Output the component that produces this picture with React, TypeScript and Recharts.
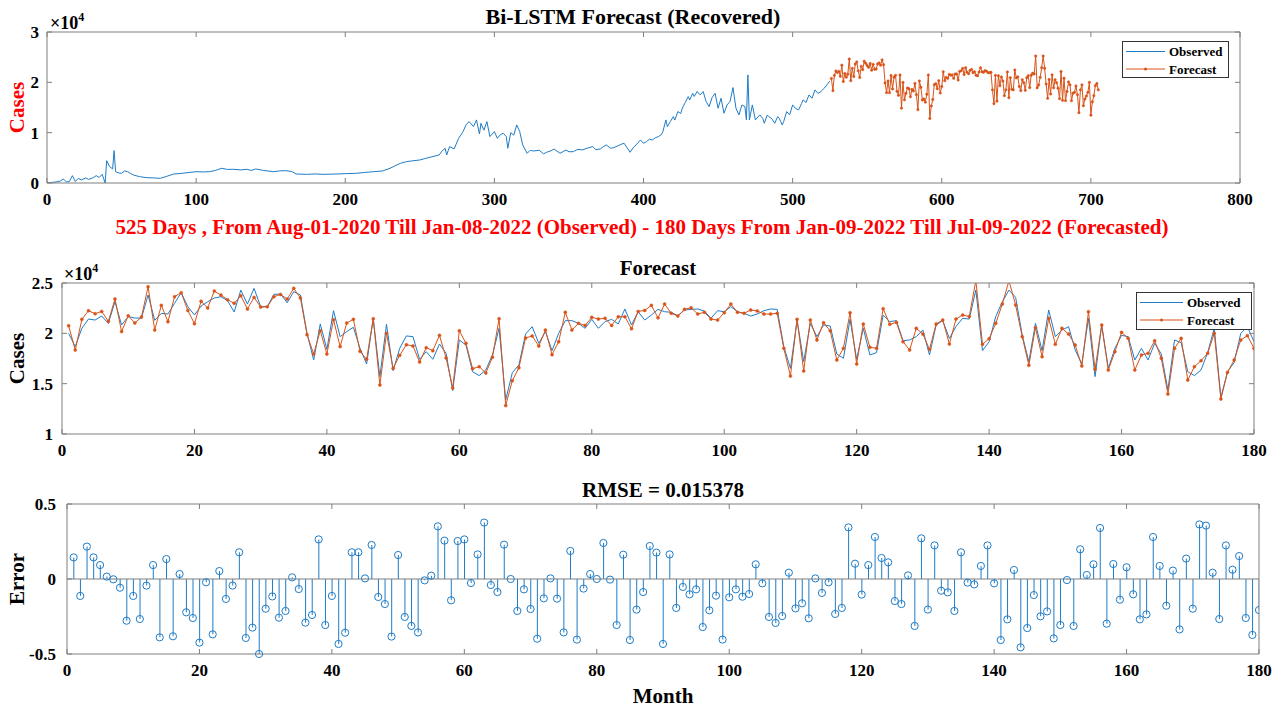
import { LineChart, Line, XAxis, YAxis, ComposedChart, Bar, ReferenceLine } from "recharts"

const FONT = '"Liberation Serif", "Times New Roman", Times, serif'
const BLUE = "#1f7cc6"
const ORANGE = "#D95319"
const FRAME = "#7f7f7f"
const RED = "#FF0000"

// observed daily cases (top panel), read at irregular day positions
const observedDays = [
    0, 3, 6, 9, 11, 13, 15, 17, 19, 21, 23, 26, 28, 31, 33, 35, 37, 39, 40, 42, 44, 45, 46, 48, 50, 52, 54, 56, 58, 62,
    67, 72, 76, 80, 85, 90, 94, 100, 105, 109, 113, 117, 121, 125, 130, 134, 137, 140, 145, 152, 156, 160, 164, 167, 174,
    180, 185, 190, 195, 200, 207, 213, 219, 225, 230, 234, 237, 241, 245, 250, 254, 258, 263, 265, 267, 268, 270, 273,
    276, 279, 281, 283, 286, 288, 290, 291, 293, 295, 297, 300, 302, 304, 306, 308, 309, 311, 313, 315, 317, 319, 322,
    324, 326, 330, 333, 335, 338, 340, 344, 348, 350, 353, 356, 359, 363, 366, 368, 371, 373, 375, 378, 380, 383, 385,
    387, 389, 391, 393, 395, 397, 398, 400, 402, 404, 406, 408, 410, 412, 413, 415, 416, 418, 420, 421, 423, 425, 426,
    428, 430, 431, 433, 434, 436, 438, 440, 442, 444, 446, 448, 450, 452, 454, 456, 458, 460, 462, 464, 466, 468, 469,
    470, 471, 473, 475, 478, 480, 481, 483, 484, 486, 488, 490, 491, 493, 494, 496, 498, 500, 502, 504, 506, 507, 509,
    511, 513, 515, 517, 519, 521, 523, 525,
]
const observedCases = [
    0, 100, 200, 400, 800, 200, 300, 1460, 300, 930, 600, 1000, 700, 1060, 1460, 1100, 1720, 0, 4440, 3250, 2800, 6430,
    2250, 2000, 1920, 2400, 2250, 1900, 1590, 1260, 1060, 1000, 930, 1300, 1790, 1900, 2050, 2250, 2200, 2250, 2500,
    2920, 2700, 2720, 2600, 2720, 2500, 2790, 2500, 2250, 2400, 2450, 2300, 1790, 1720, 1800, 1720, 1750, 1800, 1860,
    1920, 2100, 2250, 2390, 2920, 3500, 3910, 4240, 4400, 4570, 4900, 5200, 5570, 6400, 6890, 5570, 7230, 6760, 8880,
    10210, 11540, 12200, 11200, 12530, 9750, 11870, 10500, 12200, 9220, 10210, 8880, 9600, 9880, 9220, 6900, 10010, 9500,
    11540, 10210, 7560, 5900, 6500, 6360, 6500, 5800, 6100, 6400, 6760, 5900, 6560, 6200, 6230, 6700, 6560, 7000, 7230,
    6600, 6760, 7200, 7560, 6900, 7030, 7400, 7690, 7890, 7000, 6100, 7000, 7560, 8200, 8550, 7900, 8220, 8700, 8550,
    9000, 9220, 9600, 10210, 12530, 11200, 12200, 13190, 12500, 14190, 13800, 14850, 16000, 17170, 16500, 17830, 17200,
    18170, 17500, 18170, 16180, 15180, 16970, 17830, 14850, 16840, 13860, 15500, 16180, 18960, 14850, 13530, 15500,
    15180, 12530, 21480, 12530, 15510, 12530, 13530, 12800, 11870, 13500, 13190, 12800, 11870, 13200, 12860, 11540,
    12200, 14190, 13530, 15510, 14800, 14520, 15800, 16510, 16000, 17500, 16840, 18500, 17800, 18170, 18800, 19490,
    20290,
]

// 180 forecasted days (month axis in the lower panels)
const forecastCases = [
    20760, 18350, 21390, 22250, 21950, 22180, 21190, 23410, 20170, 21750, 21030, 21620, 24630, 20330, 22780, 21160,
    23640, 24040, 22280, 20960, 23180, 22520, 24200, 23800, 23340, 22980, 23740, 22420, 23570, 22610, 22650, 23640,
    23870, 23410, 24470, 23510, 19870, 17950, 20260, 17950, 21360, 18680, 21030, 21390, 18210, 17420, 21460, 14870,
    20000, 16520, 17820, 18870, 18740, 17150, 18580, 18280, 19800, 17550, 14570, 20260, 19010, 16490, 16690, 16060,
    17620, 21460, 12820, 15300, 16590, 19540, 19740, 18740, 20330, 17880, 19170, 22090, 20330, 20990, 20790, 21590,
    21420, 21490, 20790, 21650, 21650, 20460, 22180, 22280, 22780, 21540, 22910, 21990, 21720, 22380, 22550, 21920,
    22090, 21420, 21320, 22050, 22910, 22090, 21990, 22320, 22220, 21920, 21920, 21990, 18510, 15760, 21390, 16260,
    21320, 19340, 21060, 20260, 17350, 18510, 22050, 16950, 20930, 18610, 18510, 22450, 20890, 21090, 19170, 18350,
    20500, 19930, 18410, 20930, 21320, 18940, 21420, 21820, 21660, 25230, 18910, 19470, 20990, 22910, 25230, 22810,
    19670, 16820, 20560, 17680, 21490, 18910, 20500, 19930, 18840, 16760, 22150, 16420, 20830, 16360, 18180, 20100,
    19500, 16360, 17850, 18010, 19270, 17520, 13970, 18510, 19500, 15360, 16690, 17280, 18010, 20000, 13480, 16130,
    17350, 19340, 19770, 18510,
]
const observedMonth = [
    20000, 18680, 20500, 21420, 21320, 21720, 20990, 23140, 20830, 21660, 21520, 21520, 23810, 21290, 21980, 21920,
    22980, 24040, 22650, 21820, 22710, 23140, 23510, 23640, 23240, 22120, 24300, 22910, 24470, 22650, 22650, 23870,
    23910, 23040, 24140, 23810, 20000, 17350, 20930, 18410, 22250, 19670, 20170, 20600, 18510, 16950, 21460, 15700,
    20890, 16290, 18510, 19740, 19670, 17420, 18180, 17420, 18940, 18010, 14310, 19340, 18840, 16190, 15800, 16360,
    17850, 20500, 13380, 16090, 16860, 19930, 20660, 19010, 20170, 18280, 20000, 21260, 21260, 20990, 20500, 21390,
    20500, 21160, 21390, 20930, 22420, 20830, 22150, 21320, 21820, 22380, 22150, 22090, 21750, 22320, 22380, 22420,
    22220, 21490, 22250, 22150, 22650, 22150, 21990, 21720, 21920, 22250, 22420, 22380, 18680, 16520, 21320, 17190,
    20990, 19670, 20830, 20730, 17950, 17520, 21390, 17420, 20500, 17850, 18080, 21820, 21160, 21260, 19270, 19340,
    19670, 20330, 17850, 20830, 21260, 19500, 20680, 21490, 21420, 24300, 18280, 19170, 21660, 23140, 24300, 23580,
    19830, 17190, 20990, 18280, 22320, 19670, 20330, 20660, 18340, 16950, 21490, 15700, 20830, 16520, 18510, 19800,
    19670, 17350, 18510, 17350, 19010, 17950, 14370, 19340, 19070, 16190, 15800, 16360, 18080, 20500, 13640, 16190,
    17090, 20000, 20660, 19170,
]
const errors = [
    0.144, -0.113, 0.216, 0.144, 0.093, 0.016, -0.002, -0.058, -0.278, -0.113, -0.267, -0.044, 0.093, -0.389, 0.133,
    -0.382, 0.033, -0.222, -0.26, -0.424, -0.022, -0.369, 0.053, -0.133, -0.044, 0.178, -0.393, -0.324, -0.5, -0.198,
    -0.116, -0.258, -0.213, 0.011, -0.067, -0.291, -0.24, 0.264, -0.307, -0.113, -0.433, -0.358, 0.178, 0.178, 0.004,
    0.227, -0.12, -0.167, -0.384, 0.16, -0.253, -0.313, -0.356, -0.009, 0.022, 0.351, 0.256, -0.142, 0.253, 0.264,
    -0.027, 0.164, 0.376, -0.04, -0.087, 0.229, 0.0, -0.213, -0.069, -0.2, -0.398, -0.129, 0.004, -0.131, -0.356, 0.187,
    -0.404, -0.064, 0.033, 0.0, 0.24, -0.004, -0.307, 0.162, -0.407, -0.204, -0.087, 0.22, 0.176, -0.433, 0.164,
    -0.193, -0.053, -0.102, -0.069, -0.32, -0.209, -0.111, -0.404, -0.122, -0.069, -0.118, -0.1, 0.098, -0.029, -0.253,
    -0.293, -0.247, 0.042, -0.196, -0.162, -0.262, 0.004, -0.093, -0.022, -0.233, -0.193, 0.344, 0.102, -0.104, 0.093,
    0.28, 0.14, 0.111, -0.147, -0.167, 0.024, -0.313, 0.271, -0.204, 0.224, -0.078, -0.089, -0.213, 0.178, -0.024,
    -0.036, 0.087, 0.224, -0.029, -0.407, -0.269, 0.06, -0.456, -0.327, -0.107, -0.249, -0.216, -0.396, -0.307, -0.007,
    -0.313, 0.198, 0.027, 0.098, 0.34, -0.298, 0.1, -0.138, 0.078, -0.102, -0.269, -0.236, 0.28, 0.087, -0.178, 0.056,
    -0.336, 0.136, -0.198, 0.364, 0.356, 0.042, -0.267, 0.224, 0.062, 0.153, -0.26, -0.373, -0.207,
]

const dayTicks = [0, 100, 200, 300, 400, 500, 600, 700, 800]
const caseTicks = [0, 10000, 20000, 30000]
const forecastTicks = [10000, 15000, 20000, 25000]
const monthTicks = [0, 20, 40, 60, 80, 100, 120, 140, 160, 180]
const errorTicks = [-0.5, 0, 0.5]

const lastObservedDay = observedDays[observedDays.length - 1]
const observedData = observedDays.map((d, i) => ({ day: d, cases: observedCases[i] }))
const forecastData = forecastCases.map((v, i) => ({ day: lastObservedDay + i + 1, cases: v }))
const monthData = forecastCases.map((v, i) => ({ month: i + 1, observed: observedMonth[i], forecast: v }))
const errorData = errors.map((e, i) => ({ month: i + 1, err: e }))

const TICK_FS = 17
const LABEL_FS = 21
const TITLE_FS = 21
const tickStyle = { fill: "#000", fontFamily: FONT, fontSize: TICK_FS, fontWeight: "bold" as const }
const blank = () => ""

const yLabel = (value: string, color: string) => ({
    value,
    angle: -90,
    position: "insideLeft" as const,
    offset: 17,
    style: { textAnchor: "middle", fill: color, fontFamily: FONT, fontSize: LABEL_FS, fontWeight: "bold" },
})

function Caption({ cx, cy, size, color = "#000", children }: any) {
    return (
        <div
            style={{
                position: "absolute",
                left: cx - 700,
                width: 1400,
                top: cy - size / 2,
                lineHeight: `${size}px`,
                fontSize: size,
                fontFamily: FONT,
                fontWeight: "bold",
                color,
                textAlign: "center",
                whiteSpace: "nowrap",
            }}
        >
            {children}
        </div>
    )
}

function Exponent({ left, top }: { left: number; top: number }) {
    return (
        <div
            style={{
                position: "absolute",
                left,
                top,
                fontFamily: FONT,
                fontSize: 18,
                fontWeight: "bold",
                lineHeight: "18px",
                whiteSpace: "nowrap",
            }}
        >
            ×10
            <span style={{ fontSize: 12, position: "relative", top: -8 }}>4</span>
        </div>
    )
}

function LegendBox({ left, top, width, height, lineEnd }: any) {
    const rows = [
        { name: "Observed", color: BLUE, marker: false },
        { name: "Forecast", color: ORANGE, marker: true },
    ]
    return (
        <svg style={{ position: "absolute", left, top }} width={width} height={height}>
            <rect x={0.5} y={0.5} width={width - 1} height={height - 1} fill="#fff" stroke="#333" strokeWidth={1} />
            {rows.map((r, i) => {
                const y = 10.5 + i * 17.5
                return (
                    <g key={r.name}>
                        <line x1={4} x2={lineEnd} y1={y} y2={y} stroke={r.color} strokeWidth={1} />
                        {r.marker && <circle cx={(4 + lineEnd) / 2} cy={y} r={1.5} fill={r.color} />}
                        <text
                            x={lineEnd + 4}
                            y={y}
                            dy="0.35em"
                            fontFamily={FONT}
                            fontSize={13}
                            fontWeight="bold"
                            fill="#000"
                        >
                            {r.name}
                        </text>
                    </g>
                )
            })}
        </svg>
    )
}

export default function App() {
    return (
        <div style={{ position: "absolute", left: 0, top: 0, width: 1285, height: 708, background: "#fff", overflow: "hidden" }}>
            {/* top panel: whole history + forecast */}
            <div style={{ position: "absolute", left: 0, top: 0 }}>
                <LineChart width={1285} height={240} margin={{ top: 31, right: 40, bottom: 27, left: 0 }}>
                    <XAxis xAxisId="b" type="number" dataKey="day" domain={[0, 800]} ticks={dayTicks} interval={0}
                        height={30} tickSize={-5} tickMargin={15} stroke={FRAME} tick={tickStyle} allowDataOverflow />
                    <XAxis xAxisId="t" orientation="top" type="number" dataKey="day" domain={[0, 800]} ticks={dayTicks}
                        interval={0} height={1} tickSize={-5} tickFormatter={blank} stroke={FRAME} allowDataOverflow />
                    <YAxis yAxisId="l" type="number" domain={[0, 30000]} ticks={caseTicks} interval={0} width={47}
                        tickSize={-5} tickMargin={13} stroke={FRAME} tick={tickStyle}
                        tickFormatter={(v: number) => String(v / 10000)} label={yLabel("Cases", RED)} allowDataOverflow />
                    <YAxis yAxisId="r" orientation="right" type="number" domain={[0, 30000]} ticks={caseTicks} interval={0}
                        width={5} tickSize={-5} tickFormatter={blank} stroke={FRAME} allowDataOverflow />
                    <Line xAxisId="b" yAxisId="l" data={observedData} dataKey="cases" stroke={BLUE} strokeWidth={1}
                        dot={false} isAnimationActive={false} />
                    <Line xAxisId="b" yAxisId="l" data={forecastData} dataKey="cases" stroke={ORANGE} strokeWidth={1}
                        dot={{ r: 1.2, fill: ORANGE, stroke: ORANGE, strokeWidth: 0.5 }} isAnimationActive={false} />
                </LineChart>
            </div>
            <Caption cx={633} cy={17} size={22}>Bi-LSTM Forecast (Recovered)</Caption>
            <Exponent left={50} top={14} />
            <LegendBox left={1122} top={41} width={107} height={37} lineEnd={43} />
            <Caption cx={642} cy={227} size={TITLE_FS} color={RED}>
                525 Days , From Aug-01-2020 Till Jan-08-2022 (Observed) - 180 Days From Jan-09-2022 Till Jul-09-2022 (Forecasted)
            </Caption>

            {/* middle panel: forecast vs observed */}
            <div style={{ position: "absolute", left: 0, top: 250 }}>
                <LineChart width={1285} height={215} data={monthData} margin={{ top: 32, right: 26, bottom: 1, left: 0 }}>
                    <XAxis xAxisId="b" type="number" dataKey="month" domain={[0, 180]} ticks={monthTicks} interval={0}
                        height={30} tickSize={-5} tickMargin={15} stroke={FRAME} tick={tickStyle} allowDataOverflow />
                    <XAxis xAxisId="t" orientation="top" type="number" dataKey="month" domain={[0, 180]} ticks={monthTicks}
                        interval={0} height={1} tickSize={-5} tickFormatter={blank} stroke={FRAME} allowDataOverflow />
                    <YAxis yAxisId="l" type="number" domain={[10000, 25000]} ticks={forecastTicks} interval={0} width={62}
                        tickSize={-5} tickMargin={14} stroke={FRAME} tick={tickStyle}
                        tickFormatter={(v: number) => String(v / 10000)} label={yLabel("Cases", "#000")} allowDataOverflow />
                    <YAxis yAxisId="r" orientation="right" type="number" domain={[10000, 25000]} ticks={forecastTicks}
                        interval={0} width={5} tickSize={-5} tickFormatter={blank} stroke={FRAME} allowDataOverflow />
                    <Line xAxisId="b" yAxisId="l" dataKey="observed" stroke={BLUE} strokeWidth={1} dot={false}
                        isAnimationActive={false} />
                    <Line xAxisId="b" yAxisId="l" dataKey="forecast" stroke={ORANGE} strokeWidth={1}
                        dot={{ r: 1.5, fill: ORANGE, stroke: ORANGE, strokeWidth: 0.5 }} isAnimationActive={false} />
                </LineChart>
            </div>
            <Caption cx={658} cy={268} size={TITLE_FS}>Forecast</Caption>
            <Exponent left={64} top={265} />
            <LegendBox left={1136} top={292} width={116} height={38} lineEnd={47} />

            {/* bottom panel: error stems */}
            <div style={{ position: "absolute", left: 0, top: 470 }}>
                <ComposedChart width={1285} height={215} data={errorData} margin={{ top: 33, right: 21, bottom: 1, left: 0 }}>
                    <XAxis xAxisId="b" type="number" dataKey="month" domain={[0, 180]} ticks={monthTicks} interval={0}
                        height={30} tickSize={-5} tickMargin={15} stroke={FRAME} tick={tickStyle} allowDataOverflow />
                    <XAxis xAxisId="t" orientation="top" type="number" dataKey="month" domain={[0, 180]} ticks={monthTicks}
                        interval={0} height={1} tickSize={-5} tickFormatter={blank} stroke={FRAME} allowDataOverflow />
                    <YAxis yAxisId="l" type="number" domain={[-0.5, 0.5]} ticks={errorTicks} interval={0} width={67}
                        tickSize={-5} tickMargin={16} stroke={FRAME} tick={tickStyle} label={yLabel("Error", "#000")} />
                    <YAxis yAxisId="r" orientation="right" type="number" domain={[-0.5, 0.5]} ticks={errorTicks}
                        interval={0} width={5} tickSize={-5} tickFormatter={blank} stroke={FRAME} />
                    <ReferenceLine xAxisId="b" yAxisId="l" y={0} stroke={FRAME} strokeWidth={1} />
                    <Bar xAxisId="b" yAxisId="l" dataKey="err" barSize={1} fill={BLUE} isAnimationActive={false} />
                    <Line xAxisId="b" yAxisId="l" dataKey="err" stroke="none" strokeWidth={0}
                        dot={{ r: 3.6, fill: "none", stroke: BLUE, strokeWidth: 1 }} isAnimationActive={false} />
                </ComposedChart>
            </div>
            <Caption cx={663} cy={490} size={TITLE_FS}>RMSE = 0.015378</Caption>
            <Caption cx={663} cy={696} size={LABEL_FS}>Month</Caption>
        </div>
    )
}
